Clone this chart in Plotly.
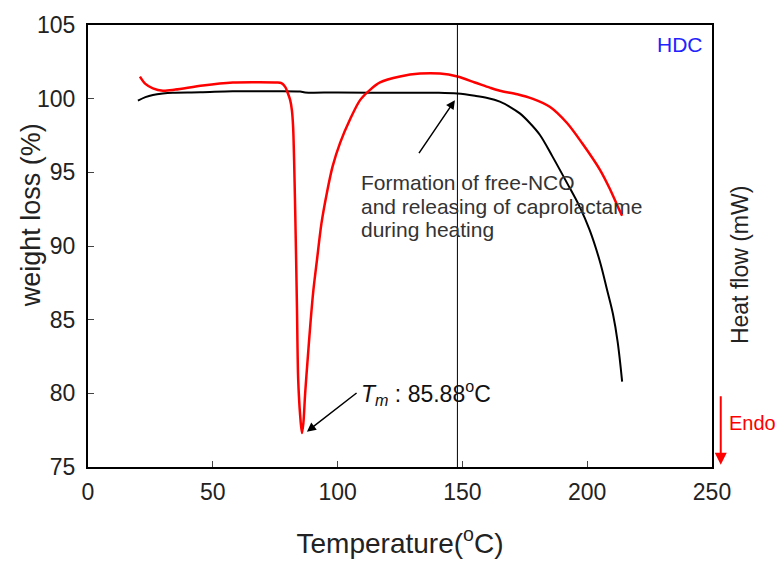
import plotly.graph_objects as go

# TGA (weight loss, %) - black curve
tga_temp = [20, 23, 26, 30, 34, 45, 58, 70, 85, 87, 100, 120, 140, 148, 155, 160, 165, 169,
            173, 177, 181, 186, 192, 197, 201, 205, 208, 210.3, 212.2, 214]
tga_wt = [99.86, 100.1, 100.25, 100.35, 100.4, 100.43, 100.5, 100.5, 100.48, 100.42, 100.42,
          100.4, 100.4, 100.35, 100.2, 100.05, 99.8, 99.45, 99.0, 98.35, 97.55, 96.1, 94.25,
          92.66, 91.08, 89.0, 87.0, 85.4, 83.5, 80.8]

# DSC (heat flow) - red curve, drawn on the hidden right axis
dsc_temp = [20.8, 23, 26, 30, 35, 46, 58, 68, 75.7, 77.5, 79, 80, 81, 81.7, 82.2, 83, 83.7,
            84.2, 85, 85.7, 86.3, 87, 88, 89, 90.3, 91.7, 93.5, 95.7, 98, 101, 105, 109, 113,
            117, 125, 133, 141, 148, 155, 161, 165, 172, 178, 185, 192, 198, 205, 209, 213, 214]
dsc_flow = [101.5, 101.0, 100.7, 100.54, 100.62, 100.9, 101.1, 101.12, 101.1, 101.05, 100.8,
            100.4, 99.9, 99.2, 98.0, 92.5, 86.0, 81.0, 78.5, 77.3, 78.0, 80.0, 82.3, 84.5, 87.0,
            89.0, 91.5, 93.6, 95.4, 97.0, 98.6, 99.9, 100.6, 101.1, 101.5, 101.7, 101.7, 101.5,
            101.1, 100.75, 100.54, 100.3, 100.0, 99.45, 98.33, 96.97, 95.2, 93.9, 92.4, 92.05]

x_ticks = [0, 50, 100, 150, 200, 250]
y_ticks = [75, 80, 85, 90, 95, 100, 105]
marker_temp = 148
note_lines = ["Formation of free-NCO", "and releasing of caprolactame", "during heating"]

font_family = "Arial, Liberation Sans, sans-serif"

fig = go.Figure()
fig.add_trace(go.Scatter(x=tga_temp, y=tga_wt, mode="lines",
                         line=dict(color="black", width=2, shape="spline", smoothing=1.0),
                         showlegend=False, hoverinfo="skip"))
fig.add_trace(go.Scatter(x=dsc_temp, y=dsc_flow, mode="lines", yaxis="y2",
                         line=dict(color="#ff0000", width=2.5, shape="spline", smoothing=0.8),
                         showlegend=False, hoverinfo="skip"))

fig.add_shape(type="line", x0=marker_temp, x1=marker_temp, y0=75, y1=105,
              xref="x", yref="y", line=dict(color="black", width=1))

annotations = [
    dict(x=147, y=99.9, ax=132.2, ay=96.2, xref="x", yref="y", axref="x", ayref="y",
         text="", showarrow=True, arrowhead=2, arrowsize=1.2, arrowwidth=1.5, arrowcolor="black"),
    dict(x=87.7, y=77.4, ax=108.2, ay=80.1, xref="x", yref="y", axref="x", ayref="y",
         text="", showarrow=True, arrowhead=2, arrowsize=1.2, arrowwidth=1.5, arrowcolor="black"),
    dict(x=108.5, y=80.0, xref="x", yref="y", xanchor="left", yanchor="middle",
         text="<i>T<sub>m</sub></i> : 85.88<sup>o</sup>C", showarrow=False,
         font=dict(family=font_family, size=23, color="#111111")),
    dict(x=0.988, y=0.955, xref="paper", yref="paper", xanchor="right", yanchor="middle",
         text="HDC", showarrow=False, font=dict(family=font_family, size=21, color="#2222ff")),
    dict(x=1.024, y=0.10, xref="paper", yref="paper", xanchor="left", yanchor="middle",
         text="Endo", showarrow=False, font=dict(family=font_family, size=20, color="#ff0000")),
    dict(x=1.014, y=0.005, xref="paper", yref="paper", ax=0, ay=-70,
         text="", showarrow=True, arrowhead=2, arrowsize=1.2, arrowwidth=2, arrowcolor="#ff0000"),
    # axis titles for the two vertical axes
    dict(x=-0.091, y=0.57, xref="paper", yref="paper", xanchor="center", yanchor="middle",
         text="weight loss (%)", textangle=-90, showarrow=False,
         font=dict(family=font_family, size=27, color="#222222")),
    dict(x=1.045, y=0.457, xref="paper", yref="paper", xanchor="center", yanchor="middle",
         text="Heat flow (mW)", textangle=-90, showarrow=False,
         font=dict(family=font_family, size=23, color="#222222")),
]
# multi-line note with tight line spacing (one annotation per line)
note_y0 = 94.3  # top line centre in data units
for i, line in enumerate(note_lines):
    annotations.append(dict(x=108.5, y=note_y0 - i * 1.6, xref="x", yref="y",
                            xanchor="left", yanchor="middle", align="left", text=line,
                            showarrow=False,
                            font=dict(family=font_family, size=21, color="#333333")))

# page body has an 8px margin, so size/margins are compensated
fig.update_layout(
    width=775, height=553,
    margin=dict(l=80, r=71, t=17, b=94, autoexpand=False),
    paper_bgcolor="white", plot_bgcolor="white",
    font=dict(family=font_family, color="#222222"),
    annotations=annotations,
    xaxis=dict(range=[0, 250], tickvals=x_ticks, ticks="inside", ticklen=6,
               showline=True, linecolor="black", linewidth=2, mirror=True, automargin=False,
               showgrid=False, zeroline=False, tickfont=dict(size=23), ticklabelstandoff=3,
               title=dict(text="Temperature(<sup>o</sup>C)", font=dict(size=28), standoff=30)),
    yaxis=dict(range=[75, 105], tickvals=y_ticks, ticks="inside", ticklen=6,
               showline=True, linecolor="black", linewidth=2, mirror=True, automargin=False,
               showgrid=False, zeroline=False, tickfont=dict(size=23), ticklabelstandoff=6),
    yaxis2=dict(range=[75, 105], overlaying="y", side="right", showticklabels=False,
                ticks="", showgrid=False, zeroline=False, showline=False, automargin=False),
)

fig.write_html("out.html")
